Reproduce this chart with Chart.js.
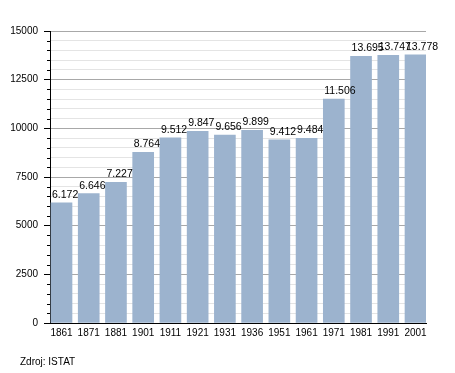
<!DOCTYPE html>
<html>
<head>
<meta charset="utf-8">
<script src="https://cdn.jsdelivr.net/npm/chart.js@4"></script>
<style>
  body { margin: 0; background: #fff; }
  canvas { display: block; }
</style>
</head>
<body>
<canvas id="graf" width="455" height="373"></canvas>
<script>
// Dati
var years = ['1861', '1871', '1881', '1901', '1911', '1921', '1931', '1936', '1951', '1961', '1971', '1981', '1991', '2001'];
var population = [6172, 6646, 7227, 8764, 9512, 9847, 9656, 9899, 9412, 9484, 11506, 13695, 13747, 13778];
var majorStep = 2500;
var minorStep = 500;
var sourceText = 'Zdroj: ISTAT';

var FONT = 'Liberation Sans, Arial, sans-serif';

function withDots(v) {
  return String(v).replace(/\B(?=(\d{3})+(?!\d))/g, '.');
}

// etichette sopra le barre
var valueLabels = {
  id: 'valueLabels',
  afterDatasetsDraw: function (chart) {
    var ctx = chart.ctx;
    var meta = chart.getDatasetMeta(0);
    ctx.save();
    ctx.font = '10.5px ' + FONT;
    ctx.fillStyle = '#000';
    ctx.textAlign = 'left';
    ctx.textBaseline = 'alphabetic';
    meta.data.forEach(function (bar, i) {
      ctx.fillText(withDots(population[i]), bar.x - bar.width / 2 + 1, bar.y - 5);
    });
    ctx.restore();
  }
};

// tacche minori e fonte
var extras = {
  id: 'extras',
  afterDraw: function (chart) {
    var ctx = chart.ctx;
    var y = chart.scales.y;
    var left = chart.chartArea.left;
    ctx.save();
    ctx.strokeStyle = '#000';
    ctx.lineWidth = 1;
    for (var v = minorStep; v < y.max; v += minorStep) {
      if (v % majorStep === 0) continue;
      var py = Math.round(y.getPixelForValue(v)) + 0.5;
      ctx.beginPath();
      ctx.moveTo(left - 3, py);
      ctx.lineTo(left, py);
      ctx.stroke();
    }
    ctx.font = '10px ' + FONT;
    ctx.fillStyle = '#000';
    ctx.textBaseline = 'middle';
    ctx.fillText(sourceText, 20, 362);
    ctx.restore();
  }
};

var ctx = document.getElementById('graf').getContext('2d');

var graf = new Chart(ctx, {
  type: 'bar',
  data: {
    datasets: [{
      data: population.map(function (v, i) { return { x: i, y: v }; }),
      backgroundColor: 'rgb(156, 179, 206)',
      borderWidth: 0,
      barThickness: 21
    }]
  },
  options: {
    responsive: false,
    animation: false,
    layout: { padding: { left: 0, top: 31, right: 29, bottom: 0 } },
    plugins: {
      legend: { display: false },
      tooltip: { enabled: false }
    },
    scales: {
      x: {
        type: 'linear',
        offset: false,
        min: -0.4223,
        max: 13.3856,
        grid: { display: false, drawTicks: false },
        border: { color: '#000', width: 1 },
        afterBuildTicks: function (scale) {
          scale.ticks = years.map(function (_, i) { return { value: i }; });
        },
        afterFit: function (scale) { scale.height = 50; },
        ticks: {
          autoSkip: false,
          maxRotation: 0,
          padding: 4,
          color: '#000',
          font: { family: FONT, size: 10 },
          callback: function (v) { return years[v]; }
        }
      },
      y: {
        min: 0,
        max: 15000,
        afterFit: function (scale) { scale.width = 50; },
        border: { color: '#000', width: 1 },
        grid: {
          color: function (c) {
            return c.tick && c.tick.value % majorStep === 0 ? '#a8a8a8' : '#e4e4e4';
          },
          tickColor: function (c) {
            return c.tick && c.tick.value % majorStep === 0 ? '#000' : 'rgba(0,0,0,0)';
          },
          tickLength: 6,
          lineWidth: 1
        },
        ticks: {
          stepSize: minorStep,
          autoSkip: false,
          padding: 6,
          color: '#000',
          font: { family: FONT, size: 10 },
          callback: function (v) { return v % majorStep === 0 ? v : ''; }
        }
      }
    }
  },
  plugins: [valueLabels, extras]
});
</script>
</body>
</html>
